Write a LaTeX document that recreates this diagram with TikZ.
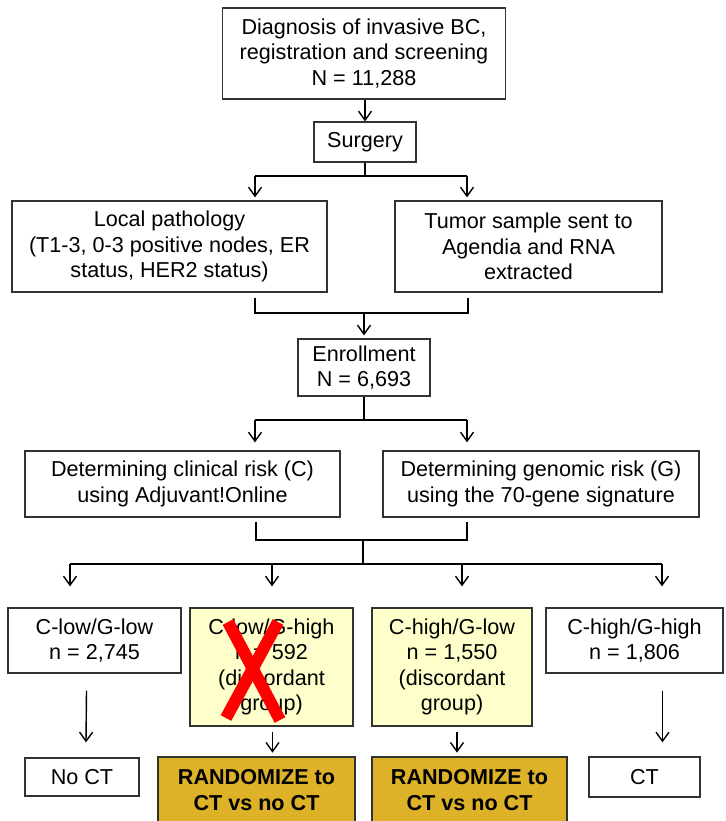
\documentclass[tikz,border=0pt]{standalone}
\usepackage{fontspec}
\setmainfont{Liberation Sans}
\usetikzlibrary{arrows.meta, calc, positioning}
\definecolor{paleyellow}{RGB}{255,255,204}
\definecolor{goldfill}{RGB}{222,178,40}
\definecolor{boxline}{RGB}{50,50,50}
\tikzset{
  box/.style={draw=boxline, line width=1.3pt, align=center, inner sep=0pt, text=black,
    font=\fontsize{21.6}{25.5}\selectfont},
  boldbox/.style={box, fill=goldfill, font=\fontsize{21.6}{25.5}\selectfont\bfseries},
  arr/.style={line width=1.4pt, -{Straight Barb[length=9pt,width=13pt]}},
  bar/.style={line width=2.4pt},
  xmark/.style={red, line width=12pt},
}

\begin{document}
\begin{tikzpicture}[x=1pt, y=1pt]
\useasboundingbox (0,0) rectangle (725,-821);

% Screening and surgery
\node[box, minimum width=283pt, minimum height=91pt] (diag) at (364,-53.5) {Diagnosis of invasive BC,\\registration and screening\\N = 11,288};
\node[box, minimum width=102pt, minimum height=40pt] (surg) at (365,-142) {Surgery};
\node[box, minimum width=315pt, minimum height=91pt] (loc) at (169.5,-246.5) {Local pathology\\(T1-3, 0-3 positive nodes, ER\\status, HER2 status)};
\node[box, minimum width=267pt, minimum height=91pt] (tum) at (528.5,-246.5) {Tumor sample sent to\\Agendia and RNA\\extracted};

% Enrollment and risk
\node[box, minimum width=132pt, minimum height=57pt] (enr) at (364,-367.5) {Enrollment\\N = 6,693};
\node[box, minimum width=315pt, minimum height=66pt] (clin) at (182.5,-484) {Determining clinical risk (C)\\using Adjuvant!Online};
\node[box, minimum width=316pt, minimum height=66pt] (gen) at (541,-484) {Determining genomic risk (G)\\using the 70-gene signature};

% Risk groups
\node[box, minimum width=173pt, minimum height=65pt] (lowlow) at (94.5,-640.5) {C-low/G-low\\n = 2,745};
\node[box, fill=paleyellow, minimum width=163pt, minimum height=118pt] (lowhigh) at (271.5,-667) {C-low/G-high\\n = 592\\(discordant\\group)};
\node[box, fill=paleyellow, minimum width=160pt, minimum height=118pt] (highlow) at (452,-667) {C-high/G-low\\n = 1,550\\(discordant\\group)};
\node[box, minimum width=177pt, minimum height=65pt] (highhigh) at (634.5,-640.5) {C-high/G-high\\n = 1,806};

% Treatment
\node[box, minimum width=114pt, minimum height=38pt] (noct) at (82,-777) {No CT};
\node[boldbox, minimum width=197pt, minimum height=66pt] (rand1) at (256.5,-790) {RANDOMIZE to\\CT vs no CT};
\node[boldbox, minimum width=195pt, minimum height=66pt] (rand2) at (469.5,-790) {RANDOMIZE to\\CT vs no CT};
\node[box, minimum width=111pt, minimum height=40pt] (ct) at (644.5,-777) {CT};

% Connectors
\draw[arr] (diag.south -| surg.north) -- (surg.north);
\coordinate (sa) at (255,-176);
\coordinate (sb) at (467,-176);
\draw[bar] (surg.south) -- (surg.south |- sa);
\draw[bar] (sa) -- (sb);
\draw[arr, shorten >=3pt] (sa) -- (sa |- loc.north);
\draw[arr, shorten >=3pt] (sb) -- (sb |- tum.north);

\coordinate (ja) at (255,-313);
\coordinate (jb) at (468,-313);
\draw[bar] ($(loc.south -| ja)+(0,-5)$) -- (ja) -- (jb) -- ($(tum.south -| jb)+(0,-5)$);
\draw[arr, shorten >=3pt] (enr.north |- ja) -- (enr.north);

\coordinate (ea) at (255,-420);
\coordinate (eb) at (467,-420);
\draw[bar] (enr.south) -- (enr.south |- ea);
\draw[bar] (ea) -- (eb);
\draw[arr, shorten >=8pt] (ea) -- (ea |- clin.north);
\draw[arr, shorten >=8pt] (eb) -- (eb |- gen.north);

\coordinate (ka) at (256,-540);
\coordinate (kb) at (467,-540);
\coordinate (km) at (363,-540);
\draw[bar] ($(clin.south -| ka)+(0,-4)$) -- (ka) -- (kb) -- ($(gen.south -| kb)+(0,-4)$);
\coordinate (ga) at (70,-564);
\coordinate (gb) at (662,-564);
\draw[bar] (km) -- (km |- ga);
\draw[bar] (ga) -- (gb);
\foreach \gx/\gname in {70/lowlow, 272/lowhigh, 462/highlow, 662/highhigh}
  \draw[arr, shorten >=21pt] (\gx,-564) -- (\gx,-564 |- \gname.north);

\draw[arr] ([xshift=-8pt,yshift=-17pt]lowlow.south) -- ([xshift=4pt,yshift=15pt]noct.north);
\draw[arr] ([yshift=-5pt]lowhigh.south -| rand1.north) ++(16,0) -- ++(0,-21);
\draw[arr] ([yshift=-5pt]highlow.south) ++(5,0) -- ++(0,-21);
\draw[arr] ([xshift=28pt,yshift=-17pt]highhigh.south) -- ([xshift=18pt,yshift=14pt]ct.north);

% Cross over the excluded group
\draw[xmark] ($(lowhigh.center)+(-43.5,45)$) -- ($(lowhigh.center)+(8.5,-53)$);
\draw[xmark] ($(lowhigh.center)+(6.5,45)$) -- ($(lowhigh.center)+(-45.5,-51)$);
\end{tikzpicture}
\end{document}
